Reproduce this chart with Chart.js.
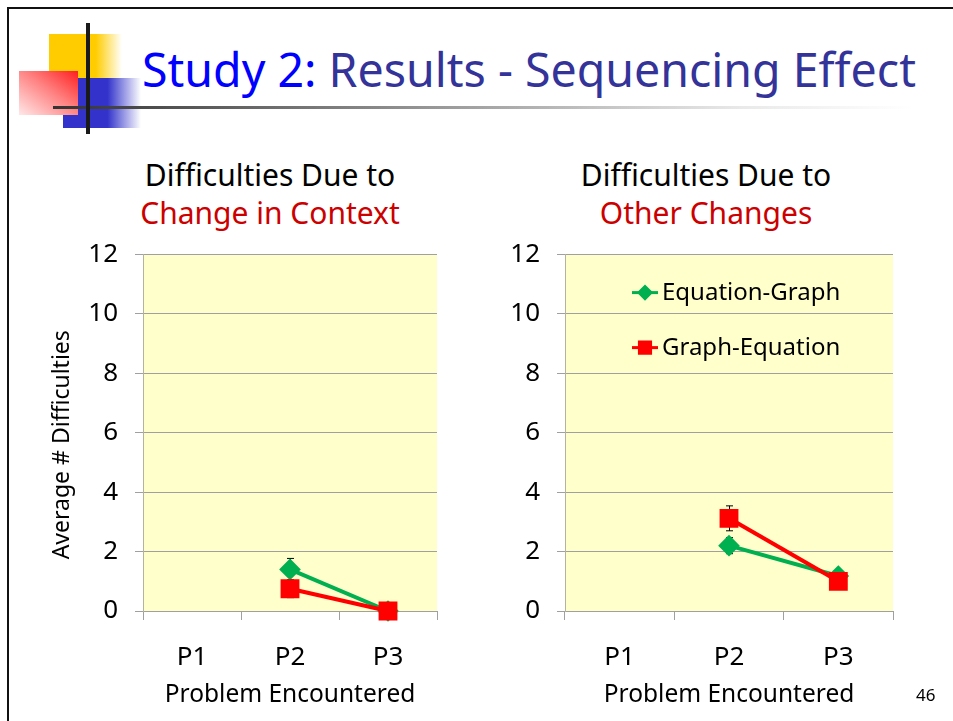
<!DOCTYPE html>
<html>
<head>
<meta charset="utf-8">
<script src="https://cdn.jsdelivr.net/npm/chart.js@4.4.1/dist/chart.umd.min.js"></script>
<style>
  html, body { margin: 0; padding: 0; background: #fff; }
  body { width: 953px; height: 721px; position: relative; overflow: hidden; font-family: 'Noto Sans', sans-serif; }
  .frame-top { position: absolute; left: 7px; top: 7px; width: 946px; height: 2px; background: #111; }
  .frame-left { position: absolute; left: 7px; top: 7px; width: 2px; height: 714px; background: #111; }
  .logo div { position: absolute; }
  .title { position: absolute; left: 142px; top: 42px; font-size: 46.5px; white-space: nowrap; color: #333399; line-height: 1.2; }
  .title .lead { color: #0000ff; }
  .ctitle { position: absolute; width: 400px; text-align: center; font-size: 30px; line-height: 38px; color: #000; }
  .ctitle .red { color: #cc0000; }
  .pagenum { position: absolute; left: 916px; top: 683px; font-size: 17px; color: #000; }
  canvas { position: absolute; }
</style>
</head>
<body>
<div class="frame-top"></div>
<div class="frame-left"></div>

<div class="logo">
  <div style="left:49px;top:34px;width:73px;height:44px;background:linear-gradient(to right,#ffcc00 0,#ffcc00 64%,rgba(255,204,0,0) 100%);"></div>
  <div style="left:63px;top:78px;width:78px;height:50px;background:linear-gradient(to right,#3333cc 0,#3333cc 57%,rgba(51,51,204,0) 100%);"></div>
  <div style="left:19px;top:71px;width:59px;height:44px;background:linear-gradient(to bottom left,#ff2020 0,#ff8080 45%,#ffe8e8 100%);"></div>
  <div style="left:53px;top:106px;width:860px;height:3px;background:linear-gradient(to right,#333 0,#999 45%,rgba(200,200,200,0.4) 80%,rgba(255,255,255,0) 100%);"></div>
  <div style="left:86px;top:23px;width:4px;height:111px;background:#1a1a1a;"></div>
</div>

<div class="title"><span class="lead">Study 2:</span> Results - Sequencing Effect</div>

<div class="ctitle" style="left:70px;top:156px;">Difficulties Due to<br><span class="red">Change in Context</span></div>
<div class="ctitle" style="left:506px;top:156px;">Difficulties Due to<br><span class="red">Other Changes</span></div>

<canvas id="leftChart" width="470" height="499" style="left:0;top:222px;"></canvas>
<canvas id="rightChart" width="483" height="499" style="left:470px;top:222px;"></canvas>

<div class="pagenum">46</div>

<script>
// ---- data ----
const problems = ['P1', 'P2', 'P3'];
const seriesNames = ['Equation-Graph', 'Graph-Equation'];

// Difficulties due to change in context
const contextEqGraph = [null, 1.4, 0];
const contextEqGraphErr = [0, 0.37, 0];
const contextGraphEq = [null, 0.75, 0];
const contextGraphEqErr = [0, 0.3, 0];

// Difficulties due to other changes
const otherEqGraph = [null, 2.2, 1.18];
const otherEqGraphErr = [0, 0.27, 0];
const otherGraphEq = [null, 3.12, 1.0];
const otherGraphEqErr = [0, 0.42, 0];

const yTicks = [0, 2, 4, 6, 8, 10, 12];

const green = '#00b050';
const red = '#ff0000';

Chart.defaults.font.family = "'Noto Sans', sans-serif";
Chart.defaults.color = '#000';

// yellow plot background
const plotBg = {
    id: 'plotBg',
    beforeDraw(chart) {
        const a = chart.chartArea;
        const ctx = chart.ctx;
        ctx.save();
        ctx.fillStyle = '#ffffcc';
        ctx.fillRect(a.left, a.top, a.right - a.left, a.bottom - a.top);
        ctx.restore();
    }
};

// error bars, drawn under the markers
const errorBars = {
    id: 'errorBars',
    beforeDatasetsDraw(chart) {
        const ctx = chart.ctx;
        const x = chart.scales.x, y = chart.scales.y;
        ctx.save();
        ctx.strokeStyle = '#000';
        ctx.lineWidth = 1;
        chart.data.datasets.forEach((ds) => {
            ds.data.forEach((v, i) => {
                const e = ds.errors[i];
                if (v === null || !e) return;
                const px = Math.round(x.getPixelForValue(i)) + 0.5;
                const top = y.getPixelForValue(v + e);
                const bot = y.getPixelForValue(v - e);
                ctx.beginPath();
                ctx.moveTo(px, top); ctx.lineTo(px, bot);
                ctx.moveTo(px - 3.5, top); ctx.lineTo(px + 3.5, top);
                ctx.moveTo(px - 3.5, bot); ctx.lineTo(px + 3.5, bot);
                ctx.stroke();
            });
        });
        ctx.restore();
    }
};

// legend inside the plot of the right chart
const innerLegend = {
    id: 'innerLegend',
    afterDraw(chart) {
        if (!chart.options.plugins.innerLegend.show) return;
        const ctx = chart.ctx;
        const a = chart.chartArea;
        const items = [0, 1].map(i => chart.data.datasets.find(d => d.label === seriesNames[i]));
        ctx.save();
        items.forEach((ds, k) => {
            const y = a.top + 38 + k * 55;
            const x0 = a.left + 67, x1 = a.left + 93;
            ctx.strokeStyle = ds.borderColor;
            ctx.lineWidth = 3;
            ctx.beginPath(); ctx.moveTo(x0, y); ctx.lineTo(x1, y); ctx.stroke();
            ctx.fillStyle = ds.pointBackgroundColor;
            ctx.strokeStyle = ds.pointBorderColor;
            Chart.helpers.drawPoint(ctx, {
                pointStyle: ds.pointStyle, radius: ds.pointRadius * 0.75,
                borderWidth: 1, rotation: 0
            }, (x0 + x1) / 2, y);
            ctx.fillStyle = '#000';
            ctx.font = "24px 'Noto Sans', sans-serif";
            ctx.textBaseline = 'middle';
            ctx.fillText(ds.label, x1 + 4, y + 1);
        });
        ctx.restore();
    }
};

function makeChart(id, eq, eqErr, ge, geErr, yWidth, padRight, showYTitle, showLegend) {
    return new Chart(document.getElementById(id), {
        type: 'line',
        data: {
            labels: problems,
            datasets: [{
                label: seriesNames[0],
                data: eq,
                errors: eqErr,
                borderColor: green,
                backgroundColor: green,
                pointBackgroundColor: green,
                pointBorderColor: green,
                pointStyle: 'rectRot',
                pointRadius: 8,
                borderWidth: 4,
                clip: false,
                order: 1
            }, {
                label: seriesNames[1],
                data: ge,
                errors: geErr,
                borderColor: red,
                backgroundColor: red,
                pointBackgroundColor: red,
                pointBorderColor: red,
                pointStyle: 'rect',
                pointRadius: 10.5,
                borderWidth: 4,
                clip: false,
                order: 0
            }]
        },
        options: {
            responsive: false,
            animation: false,
            layout: { padding: { left: 0, top: 24, right: padRight, bottom: 0 } },
            plugins: {
                legend: { display: false },
                tooltip: { enabled: false },
                innerLegend: { show: showLegend }
            },
            scales: {
                x: {
                    offset: true,
                    grid: { offset: true, drawOnChartArea: false, tickLength: 9, color: '#a0a0a0' },
                    border: { color: '#a0a0a0' },
                    ticks: { padding: 22, font: { size: 26 } },
                    title: { display: true, text: 'Problem Encountered', font: { size: 24.5 }, padding: { top: 0, bottom: 11 } },
                    afterFit(s) { s.height = 110; }
                },
                y: {
                    min: 0,
                    max: 12,
                    afterBuildTicks(s) { s.ticks = yTicks.map(v => ({ value: v })); },
                    grid: { color: '#a0a0a0', tickLength: 8 },
                    border: { color: '#b4b49c' },
                    ticks: { padding: 17, font: { size: 26 } },
                    // trailing spaces nudge the title down, as in the slide
                    title: { display: showYTitle, text: 'Average # Difficulties    ', font: { size: 23 }, padding: { top: 49, bottom: 0 } },
                    afterFit(s) { s.width = yWidth; }
                }
            }
        },
        plugins: [plotBg, errorBars, innerLegend]
    });
}

makeChart('leftChart', contextEqGraph, contextEqGraphErr, contextGraphEq, contextGraphEqErr, 143, 33, true, false);
makeChart('rightChart', otherEqGraph, otherEqGraphErr, otherGraphEq, otherGraphEqErr, 95, 60, false, true);
</script>
</body>
</html>
